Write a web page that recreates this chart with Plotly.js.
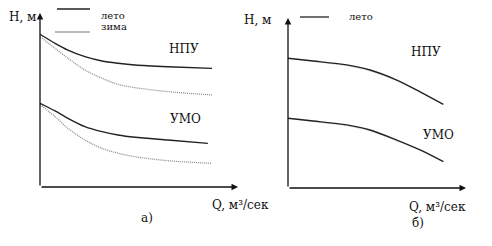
<!DOCTYPE html>
<html><head><meta charset="utf-8">
<script src="https://cdn.plot.ly/plotly-3.0.1.min.js"></script>
<style>html,body{margin:0;padding:0;background:#fff}</style>
</head><body><div id="chart" style="width:492px;height:246px"></div>
<script>
// Panel a) — summer / winter curves
const qA = [0, 7.6, 14.1, 22.7, 31.3, 39.4, 48, 64.6, 86.9];
const hA_npuSummer = [87.8, 82.6, 78.7, 74.9, 72.4, 71.1, 70.1, 69.1, 68.2];
const hA_npuWinter = [86.4, 79.7, 74.0, 67.2, 62.5, 59.0, 57.1, 54.8, 52.9];
const qA_umoSummer = [0, 7.6, 14.1, 22.7, 31.3, 39.4, 48, 64.6, 84.8];
const hA_umoSummer = [48.1, 43.7, 39.5, 34.7, 31.8, 29.9, 28.6, 27.0, 25.1];
const hA_umoWinter = [47.5, 40.4, 33.7, 27.0, 22.2, 19.4, 17.4, 15.1, 13.6];
// Panel б)
const qB = [0, 14.2, 33, 46.1, 61.1, 74.2, 87.3];
const hB_npuSummer = [76.3, 74.7, 72.4, 69.4, 63.5, 56.6, 49.2];
const hB_npuWinter = [76.3, 74.4, 71.9, 68.8, 63.1, 56.4, 49.2];
const hB_umoSummer = [41.0, 39.4, 37.1, 34.1, 28.2, 22.4, 15.5];
const hB_umoWinter = [41.0, 39.1, 36.6, 33.5, 27.8, 22.2, 15.5];

const W = 492, H = 246;
const FONT = 'DejaVu Serif';
const px = v => v / W, py = v => 1 - v / H;

const sumLine = {color: '#222', width: 1.4};
const winLine = {color: '#8c8c8c', width: 1.3, dash: '1px,1px'};
const winLineB = {color: '#c4c4c4', width: 1.0, dash: '1px,1px'};
function tr(x, y, line, xa, ya) {
  return {x, y, type: 'scatter', mode: 'lines', line: Object.assign({shape: 'spline', smoothing: 0.8}, line),
          xaxis: xa, yaxis: ya, hoverinfo: 'skip', showlegend: false};
}
const data = [
  tr(qA, hA_npuWinter, winLine, 'x', 'y'),
  tr(qA, hA_npuSummer, sumLine, 'x', 'y'),
  tr(qA, hA_umoWinter, winLine, 'x', 'y'),
  tr(qA_umoSummer, hA_umoSummer, sumLine, 'x', 'y'),
  tr(qB, hB_npuWinter, winLineB, 'x2', 'y2'),
  tr(qB, hB_npuSummer, sumLine, 'x2', 'y2'),
  tr(qB, hB_umoWinter, winLineB, 'x2', 'y2'),
  tr(qB, hB_umoSummer, sumLine, 'x2', 'y2')
];

const hidden = {showgrid: false, zeroline: false, showticklabels: false, ticks: '', showline: false, fixedrange: true};
function txt(t, x, y, size, anchor) {
  return {text: t, xref: 'paper', yref: 'paper', x: px(x), y: py(y), xanchor: anchor || 'left', yanchor: 'middle',
          showarrow: false, font: {family: FONT, size: size, color: '#111'}};
}
function axisArrow(xr, yr, x, y, ax, ay) {
  return {xref: xr, yref: yr, x: x, y: y, ax: ax, ay: ay, axref: 'pixel', ayref: 'pixel', text: '',
          showarrow: true, arrowhead: 2, arrowsize: 1, arrowwidth: 1.3, arrowcolor: '#111', standoff: 0, startstandoff: 0};
}

const layout = {
  width: W, height: H, margin: {l: 0, r: 0, t: 0, b: 0},
  font: {family: FONT},
  paper_bgcolor: '#fff', plot_bgcolor: 'rgba(0,0,0,0)', showlegend: false,
  xaxis: Object.assign({domain: [px(40), px(238)], range: [0, 100]}, hidden),
  yaxis: Object.assign({domain: [py(187), py(13)], range: [0, 100]}, hidden),
  xaxis2: Object.assign({domain: [px(288), px(466)], range: [0, 100], anchor: 'y2'}, hidden),
  yaxis2: Object.assign({domain: [py(188), py(18)], range: [0, 100], anchor: 'x2'}, hidden),
  shapes: [
    {type: 'line', xref: 'paper', yref: 'paper', x0: px(57), x1: px(90), y0: py(9), y1: py(9), line: {color: '#222', width: 1.3}},
    {type: 'line', xref: 'paper', yref: 'paper', x0: px(55), x1: px(90), y0: py(32), y1: py(32), line: {color: '#a0a0a0', width: 1.5}},
    {type: 'line', xref: 'paper', yref: 'paper', x0: px(300), x1: px(329), y0: py(17), y1: py(17), line: {color: '#222', width: 1.3}}
  ],
  annotations: [
    axisArrow('x', 'y', 0, 100, 0, 174),
    axisArrow('x', 'y', 100, 0, -198, 0),
    axisArrow('x2', 'y2', 0, 100, 0, 170),
    axisArrow('x2', 'y2', 100, 0, -178, 0),
    txt('Н, м', 7, 17, 12),
    txt('лето', 99, 15, 10),
    txt('зима', 99, 27, 10),
    txt('НПУ', 167, 49, 12),
    txt('УМО', 168, 119, 12),
    txt('Q, м³/сек', 210, 205, 12),
    txt('а)', 147, 218, 12, 'center'),
    txt('Н, м', 242, 20, 12),
    txt('лето', 347, 17, 10),
    txt('НПУ', 409, 52, 12),
    txt('УМО', 421, 135, 12),
    txt('Q, м³/сек', 407, 207, 12),
    txt('б)', 410, 223, 12)
  ]
};
Plotly.newPlot('chart', data, layout, {staticPlot: true, displayModeBar: false});
</script></body></html>
